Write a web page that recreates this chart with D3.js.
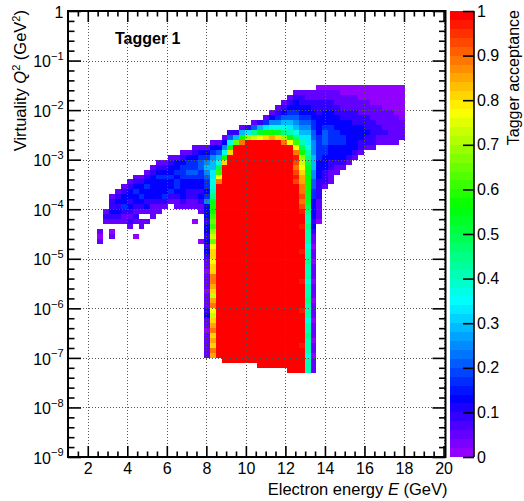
<!DOCTYPE html>
<html>
<head>
<meta charset="utf-8">
<script src="https://cdn.jsdelivr.net/npm/d3@7"></script>
<style>
  body { margin: 0; background: #fff; }
  text { font-family: "Liberation Sans", Arial, Helvetica, sans-serif; fill: #000; }
</style>
</head>
<body>
<svg id="chart" width="524" height="501"></svg>
<script>
// ---- Binning of the acceptance map ----
// Electron energy bins (GeV): lower edge of the first column and column width
const energyBinStart = 2.47;
const energyBinWidth = 0.3;
// Virtuality bins: log10(Q^2) of the upper edge of row 0, and row height in decades
const logQ2Top = -1.5;
const logQ2Step = 0.1;

// First filled row of each energy column (row 0 is the highest Q^2 row)
const columnStartRow = [
  29, 25, 22, 21, 20, 19, 18, 18, 17, 16,
  15, 15, 14, 14, 13, 13, 12, 12, 12, 11,
  11, 10,  9,  9,  8,  8,  7,  7,  6,  5,
   4,  3,  2,  1,  1,  1,  1,  0,  0,  0,
   0,  0,  0,  0,  0,  0,  0,  0,  0,  0,
   0,  0
];

// Acceptance per bin, going down each column from its first row.
// 'a'..'z' encode 0..1 in steps of 0.04, '.' is an empty bin.
const columnCells = [
  "bab",
  "bcb",
  "bccdcb.ab",
  "bcdcdcb",
  "bcddecbb",
  "bcddcdcbcb",
  "bcdeddcbcb..a",
  "bcddedcb.bb",
  "bcdeddcdb.b",
  "bcdddddcbbb",
  "bcdeddddcbb",
  "bcdedddecb",
  "bcddeddecb",
  "bddedeedcbb",
  "bcdeeeddddcb",
  "bdeefeddccbb",
  "bcdeefeddccbb..a",
  "bdeffeeddcdcbb.....a",
  "bdeghgfeed" + "egdddcddcd" + "cdcbbabbba" + "bbbcdbbabb" + "bbb",
  "bdeghhiijj" + "klnoopqprs" + "qtuutuuwwv" + "usvwtsuvwu" + "vuwv",
  "bdfhjmptw" + "zzzzzzzzzz" + "zzzzzzzzzz" + "zzzzzzzzzz" + "zzzzz",
  "bdgjou" + "zzzzzzzzzz" + "zzzzzzzzzz" + "zzzzzzzzzz" + "zzzzzzzzzz",
  "cfjou" + "zzzzzzzzzz" + "zzzzzzzzzz" + "zzzzzzzzzz" + "zzzzzzzzzz" + "zz",
  "chq" + "zzzzzzzzzz" + "zzzzzzzzzz" + "zzzzzzzzzz" + "zzzzzzzzzz" + "zzzz",
  "bhow" + "zzzzzzzzzz" + "zzzzzzzzzz" + "zzzzzzzzzz" + "zzzzzzzzzz" + "zzzz",
  "cir" + "zzzzzzzzzz" + "zzzzzzzzzz" + "zzzzzzzzzz" + "zzzzzzzzzz" + "zzzzz",
  "bfls" + "zzzzzzzzzz" + "zzzzzzzzzz" + "zzzzzzzzzz" + "zzzzzzzzzz" + "zzzzz",
  "chnt" + "zzzzzzzzzz" + "zzzzzzzzzz" + "zzzzzzzzzz" + "zzzzzzzzzz" + "zzzzzz",
  "beiou" + "zzzzzzzzzz" + "zzzzzzzzzz" + "zzzzzzzzzz" + "zzzzzzzzzz" + "zzzzzz",
  "bdgjov" + "zzzzzzzzzz" + "zzzzzzzzzz" + "zzzzzzzzzz" + "zzzzzzzzzz" + "zzzzzz",
  "bcegjnu" + "zzzzzzzzzz" + "zzzzzzzzzz" + "zzzzzzzzzz" + "zzzzzzzzzz" + "zzzzzz",
  "bcdfhjlrw" + "zzzzzzzzzz" + "zzzzzzzzzz" + "zzzzzzzzzz" + "zzzzzzzzzz" + "zzzzz",
  "bcdefhikot" + "zzzzzzzzzz" + "zzzzzzzzzz" + "zzzzzzzzzz" + "zzzzzzzzzz" + "zzzzzz",
  "bcddefghjlptwyxwxyx" + "zzzzzzzzzz" + "zzzzzzzzzz" + "zzzzzzzzzz" + "zzzzzzzz",
  "bccddefghi" + "kmorstuvvw" + "wxwxyzzyzz" + "zzyzzzzzyz" + "zzzzyzzzzz" + "zyzzzzz",
  "bbcddefghi" + "ijklmnnooo" + "nnnmlkklkk" + "kjkklkkkjk" + "kklkkkjkkl" + "kkkjkkk",
  "bbccddeeff" + "ggghhhggff" + "eeddddcdcb" + "babbabbbab" + "bbabbbabbb" + "abbabbb",
  "abbcccdddd" + "eeeeeddddc" + "cccbbbba",
  "abbccdddefffeedddcccb",
  "abbccdddeeeedddccbbb",
  "abbbccdddeeedddcbb",
  "aabbbccdddeedddcb",
  "aabbbccdddddddcb",
  "aabbbcccdddddcb",
  "aaabbbccdddccb",
  "aaabbbcccdccb",
  "aaaabbbcccccb",
  "aaaabbbbccbb",
  "aaaaabbbbcbb",
  "aaaaabbbbbbb",
  "aaaaaabbbbbb",
  "aaaaaaabbbb"
];

// Axis ticks
const xTickValues = [2, 4, 6, 8, 10, 12, 14, 16, 18, 20];
const yTickExponents = [0, -1, -2, -3, -4, -5, -6, -7, -8, -9];
const zTickValues = [0, 0.1, 0.2, 0.3, 0.4, 0.5, 0.6, 0.7, 0.8, 0.9, 1];

// ---- Layout ----
const frame = { left: 68, right: 445.5, top: 11, bottom: 457 };
const paletteBox = { left: 450, right: 474 };

const svg = d3.select("#chart");

const x = d3.scaleLinear().domain([1, 20.1]).range([frame.left, frame.right]);
const y = d3.scaleLog().domain([1e-9, 1]).range([frame.bottom, frame.top]);
const z = d3.scaleLinear().domain([0, 1]).range([frame.bottom, frame.top]);

// 50-colour violet -> red spectrum
const nColors = 50;
function paletteColor(idx) {
  const hue = idx >= nColors - 1 ? 0 : 280 - (idx + 1) * (280 / nColors);
  return d3.hsl(hue, 1, 0.5).formatHex();
}
function colorIndex(v) {
  return Math.min(nColors - 1, Math.floor(0.01 + v * nColors));
}
function acceptance(ch) {
  return ch === "a" ? 0.01 : (ch.charCodeAt(0) - 97) / 25;
}

// ---- Bins ----
const cells = [];
columnCells.forEach((col, i) => {
  Array.from(col).forEach((ch, j) => {
    if (ch === ".") return;
    const row = columnStartRow[i] + j;
    cells.push({
      e0: energyBinStart + i * energyBinWidth,
      e1: energyBinStart + (i + 1) * energyBinWidth,
      qLow: Math.pow(10, logQ2Top - (row + 1) * logQ2Step),
      qHigh: Math.pow(10, logQ2Top - row * logQ2Step),
      v: acceptance(ch)
    });
  });
});

svg.append("g")
  .attr("shape-rendering", "crispEdges")
  .selectAll("rect")
  .data(cells)
  .join("rect")
  .attr("x", d => Math.round(x(d.e0)))
  .attr("width", d => Math.round(x(d.e1)) - Math.round(x(d.e0)))
  .attr("y", d => Math.round(y(d.qHigh)))
  .attr("height", d => Math.round(y(d.qLow)) - Math.round(y(d.qHigh)))
  .attr("fill", d => paletteColor(colorIndex(d.v)));

// ---- Dotted grid, drawn over the bins ----
const grid = svg.append("g")
  .attr("stroke", "#555")
  .attr("stroke-width", 1)
  .attr("stroke-dasharray", "1,2")
  .attr("shape-rendering", "crispEdges");
grid.selectAll("line.gx")
  .data(xTickValues)
  .join("line")
  .attr("x1", d => Math.round(x(d)) + 0.5)
  .attr("x2", d => Math.round(x(d)) + 0.5)
  .attr("y1", frame.top)
  .attr("y2", frame.bottom);
grid.selectAll("line.gy")
  .data(yTickExponents.filter(e => e < 0 && e > -9))
  .join("line")
  .attr("x1", frame.left)
  .attr("x2", frame.right)
  .attr("y1", d => Math.round(y(Math.pow(10, d))) + 0.5)
  .attr("y2", d => Math.round(y(Math.pow(10, d))) + 0.5);

// ---- Axes (ticks pointing into the frame on all four sides) ----
const xMinor = d3.range(1.5, 20.01, 0.5).filter(v => !xTickValues.includes(v));
const yMajor = yTickExponents.map(e => Math.pow(10, e));
const yMinor = [];
yTickExponents.slice(1).forEach(e => {
  for (let k = 1; k < 5; k++) yMinor.push(Math.pow(10, e + k / 5));
});

function styleAxis(g) {
  g.select(".domain").remove();
  g.selectAll("line").attr("stroke", "#000").attr("stroke-width", 1.6);
}

svg.append("g").attr("transform", `translate(0,${frame.bottom})`)
  .call(d3.axisBottom(x).tickValues(xTickValues).tickSize(-11).tickSizeOuter(0)
    .tickPadding(5.6).tickFormat(d3.format("d")))
  .call(styleAxis)
  .call(g => g.selectAll("text").attr("font-size", 16)
    .attr("font-family", '"Liberation Sans", Arial, sans-serif'));
svg.append("g").attr("transform", `translate(0,${frame.bottom})`)
  .call(d3.axisBottom(x).tickValues(xMinor).tickSize(-5.5).tickSizeOuter(0).tickFormat(""))
  .call(styleAxis);
svg.append("g").attr("transform", `translate(0,${frame.top})`)
  .call(d3.axisTop(x).tickValues(xTickValues).tickSize(-11).tickSizeOuter(0).tickFormat(""))
  .call(styleAxis);
svg.append("g").attr("transform", `translate(0,${frame.top})`)
  .call(d3.axisTop(x).tickValues(xMinor).tickSize(-5.5).tickSizeOuter(0).tickFormat(""))
  .call(styleAxis);

svg.append("g").attr("transform", `translate(${frame.left},0)`)
  .call(d3.axisLeft(y).tickValues(yMajor).tickSize(-13).tickSizeOuter(0).tickFormat(""))
  .call(styleAxis);
svg.append("g").attr("transform", `translate(${frame.left},0)`)
  .call(d3.axisLeft(y).tickValues(yMinor).tickSize(-6.5).tickSizeOuter(0).tickFormat(""))
  .call(styleAxis);
svg.append("g").attr("transform", `translate(${frame.right},0)`)
  .call(d3.axisRight(y).tickValues(yMajor).tickSize(-13).tickSizeOuter(0).tickFormat(""))
  .call(styleAxis);
svg.append("g").attr("transform", `translate(${frame.right},0)`)
  .call(d3.axisRight(y).tickValues(yMinor).tickSize(-6.5).tickSizeOuter(0).tickFormat(""))
  .call(styleAxis);

// Power-of-ten labels on the virtuality axis
const yLabels = svg.append("g").attr("text-anchor", "end");
yTickExponents.forEach(e => {
  const t = yLabels.append("text")
    .attr("x", frame.left - 4.5)
    .attr("y", y(Math.pow(10, e)) + 6.7)
    .attr("font-size", 16);
  if (e === 0) {
    t.text("1");
  } else {
    t.append("tspan").text("10");
    t.append("tspan").attr("dy", -7.5).attr("font-size", 11).text("\u2212" + Math.abs(e));
  }
});

// Frame
svg.append("rect")
  .attr("x", frame.left).attr("y", frame.top)
  .attr("width", frame.right - frame.left).attr("height", frame.bottom - frame.top)
  .attr("fill", "none").attr("stroke", "#000").attr("stroke-width", 2);

// ---- Colour palette ----
svg.append("g")
  .attr("shape-rendering", "crispEdges")
  .selectAll("rect")
  .data(d3.range(nColors))
  .join("rect")
  .attr("x", paletteBox.left)
  .attr("width", paletteBox.right - paletteBox.left)
  .attr("y", i => Math.round(z((i + 1) / nColors)))
  .attr("height", i => Math.round(z(i / nColors)) - Math.round(z((i + 1) / nColors)))
  .attr("fill", i => paletteColor(i));

svg.append("g").attr("transform", `translate(${paletteBox.right},0)`)
  .call(d3.axisRight(z).tickValues(zTickValues).tickSize(-11).tickSizeOuter(0)
    .tickPadding(3).tickFormat(d3.format("~g")))
  .call(g => g.select(".domain").remove())
  .call(g => g.selectAll("line").attr("stroke", "#000").attr("stroke-width", 1.6))
  .call(g => g.selectAll("text").attr("font-size", 16)
    .attr("font-family", '"Liberation Sans", Arial, sans-serif'));
svg.append("line")
  .attr("x1", paletteBox.right).attr("x2", paletteBox.right)
  .attr("y1", frame.top).attr("y2", frame.bottom)
  .attr("stroke", "#000").attr("stroke-width", 1.6);

// ---- Titles ----
const xTitle = svg.append("text")
  .attr("x", frame.right + 2).attr("y", 495)
  .attr("text-anchor", "end").attr("font-size", 16.5);
xTitle.append("tspan").text("Electron energy ");
xTitle.append("tspan").attr("font-style", "italic").text("E");
xTitle.append("tspan").text(" (GeV)");

const yTitle = svg.append("text")
  .attr("transform", "translate(26,10) rotate(-90)")
  .attr("text-anchor", "end").attr("font-size", 16.5);
yTitle.append("tspan").text("Virtuality ");
yTitle.append("tspan").attr("font-style", "italic").text("Q");
yTitle.append("tspan").attr("dy", -6).attr("font-size", 11).text("2");
yTitle.append("tspan").attr("dy", 6).text(" (GeV");
yTitle.append("tspan").attr("dy", -6).attr("font-size", 11).text("2");
yTitle.append("tspan").attr("dy", 6).text(")");

svg.append("text")
  .attr("transform", "translate(519,10) rotate(-90)")
  .attr("text-anchor", "end").attr("font-size", 16)
  .text("Tagger acceptance");

svg.append("text")
  .attr("x", 115).attr("y", 43.5)
  .attr("font-size", 16).attr("font-weight", "bold")
  .text("Tagger 1");
</script>
</body>
</html>
